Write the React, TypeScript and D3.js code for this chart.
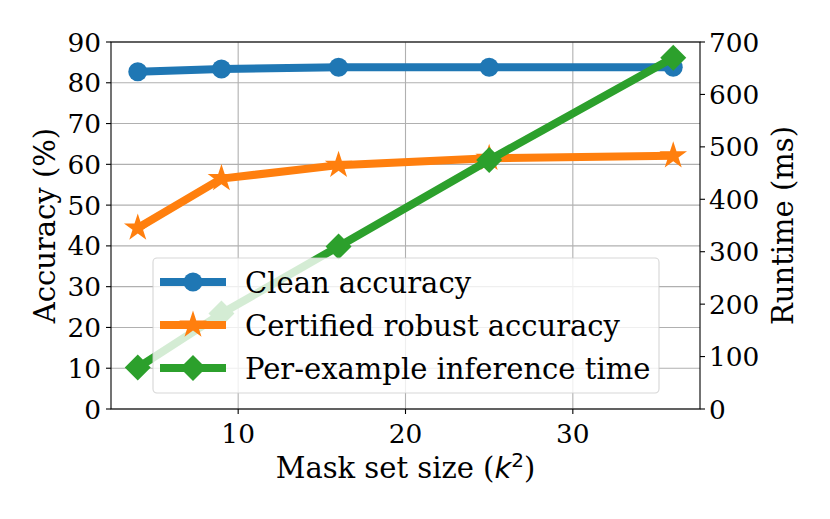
import React from "react";
import * as d3 from "d3";

const maskSizes = [4, 9, 16, 25, 36];
const cleanAcc = [82.7, 83.4, 83.8, 83.8, 83.8];
const certAcc = [44.4, 56.5, 59.8, 61.5, 62.1];
const runtimeMs = [79, 182, 310, 475, 670];
const xTicks = [10, 20, 30];
const accTicks = [0, 10, 20, 30, 40, 50, 60, 70, 80, 90];
const rtTicks = [0, 100, 200, 300, 400, 500, 600, 700];
const legendLabels = ["Clean accuracy", "Certified robust accuracy", "Per-example inference time"];

const W = 830, H = 519;
const L = 111, R = 700, T = 42, B = 409;
const FONT = "'DejaVu Serif', serif";
const FS = 26.4;
const LFS = 29;
const LW = 8;
const C_BLUE = "#1f77b4", C_ORANGE = "#ff7f0e", C_GREEN = "#2ca02c";

function starPath(cx: number, cy: number, r: number) {
  const ri = r * 0.381966;
  const pts: string[] = [];
  for (let i = 0; i < 10; i++) {
    const rr = i % 2 === 0 ? r : ri;
    const a = -Math.PI / 2 + (i * Math.PI) / 5;
    pts.push(`${cx + rr * Math.cos(a)},${cy + rr * Math.sin(a)}`);
  }
  return "M" + pts.join("L") + "Z";
}
function diamondPath(cx: number, cy: number, r: number) {
  return `M${cx},${cy - r}L${cx + r},${cy}L${cx},${cy + r}L${cx - r},${cy}Z`;
}

function Marker({ kind, x, y, color }: { kind: string; x: number; y: number; color: string }) {
  if (kind === "circle") return <circle cx={x} cy={y} r={9.5} fill={color} />;
  if (kind === "star") return <path d={starPath(x, y, 14.5)} fill={color} />;
  return <path d={diamondPath(x, y, 13)} fill={color} />;
}

export default function App() {
  const x = d3.scaleLinear().domain([2.4, 37.6]).range([L, R]);
  const yA = d3.scaleLinear().domain([0, 90]).range([B, T]);
  const yR = d3.scaleLinear().domain([0, 700]).range([B, T]);
  const line = (ys: number[], sc: d3.ScaleLinear<number, number>) =>
    d3.line<number>().x((_, i) => x(maskSizes[i])).y((v) => sc(v))(ys) || "";

  const series = [
    { vals: cleanAcc, sc: yA, color: C_BLUE, kind: "circle" },
    { vals: certAcc, sc: yA, color: C_ORANGE, kind: "star" },
    { vals: runtimeMs, sc: yR, color: C_GREEN, kind: "diamond" },
  ];

  const lg = { x: 153, y: 258, w: 506, h: 135 };
  const rowY = [282, 325, 368];

  return (
    <svg width={W} height={H} style={{ position: "absolute", left: 0, top: 0, background: "#fff" }}>
      <rect x={0} y={0} width={W} height={H} fill="#fff" />
      {xTicks.map((t) => (
        <line key={"gx" + t} x1={x(t)} x2={x(t)} y1={T} y2={B} stroke="#b0b0b0" strokeWidth={1.1} />
      ))}
      {accTicks.map((t) => (
        <line key={"gy" + t} x1={L} x2={R} y1={yA(t)} y2={yA(t)} stroke="#b0b0b0" strokeWidth={1.1} />
      ))}
      {series.map((s, si) => (
        <g key={si}>
          <path d={line(s.vals, s.sc)} fill="none" stroke={s.color} strokeWidth={LW} strokeLinejoin="round" />
          {s.vals.map((v, i) => (
            <Marker key={i} kind={s.kind} x={x(maskSizes[i])} y={s.sc(v)} color={s.color} />
          ))}
        </g>
      ))}
      <rect x={L} y={T} width={R - L} height={B - T} fill="none" stroke="#000" strokeWidth={1.1} />
      {xTicks.map((t) => (
        <g key={"xt" + t}>
          <line x1={x(t)} x2={x(t)} y1={B} y2={B + 5} stroke="#000" strokeWidth={1.1} />
          <text x={x(t)} y={B + 34} textAnchor="middle" fontFamily={FONT} fontSize={FS}>{t}</text>
        </g>
      ))}
      {accTicks.map((t) => (
        <g key={"ya" + t}>
          <line x1={L - 5} x2={L} y1={yA(t)} y2={yA(t)} stroke="#000" strokeWidth={1.1} />
          <text x={L - 10} y={yA(t) + 9.6} textAnchor="end" fontFamily={FONT} fontSize={FS}>{t}</text>
        </g>
      ))}
      {rtTicks.map((t) => (
        <g key={"yr" + t}>
          <line x1={R} x2={R + 5} y1={yR(t)} y2={yR(t)} stroke="#000" strokeWidth={1.1} />
          <text x={R + 9} y={yR(t) + 9.6} textAnchor="start" fontFamily={FONT} fontSize={FS}>{t}</text>
        </g>
      ))}
      <text x={(L + R) / 2} y={478} textAnchor="middle" fontFamily={FONT} fontSize={LFS}>
        Mask set size (<tspan fontStyle="italic" fontFamily="'DejaVu Sans', sans-serif">k</tspan><tspan dy={-11} fontSize={20} fontFamily="'DejaVu Sans', sans-serif">2</tspan><tspan dy={11}>)</tspan>
      </text>
      <text transform={`translate(55,${(T + B) / 2}) rotate(-90)`} textAnchor="middle" fontFamily={FONT} fontSize={LFS}>Accuracy (%)</text>
      <text transform={`translate(793,${(T + B) / 2}) rotate(-90)`} textAnchor="middle" fontFamily={FONT} fontSize={LFS}>Runtime (ms)</text>
      <rect x={lg.x} y={lg.y} width={lg.w} height={lg.h} rx={4} fill="#fff" fillOpacity={0.8} stroke="#cccccc" strokeOpacity={0.8} strokeWidth={1.1} />
      {series.map((s, i) => (
        <g key={"lg" + i}>
          <line x1={160} x2={226} y1={rowY[i]} y2={rowY[i]} stroke={s.color} strokeWidth={LW} />
          <Marker kind={s.kind} x={193} y={rowY[i]} color={s.color} />
          <text x={245} y={rowY[i] + 10.5} fontFamily={FONT} fontSize={LFS}>{legendLabels[i]}</text>
        </g>
      ))}
    </svg>
  );
}
